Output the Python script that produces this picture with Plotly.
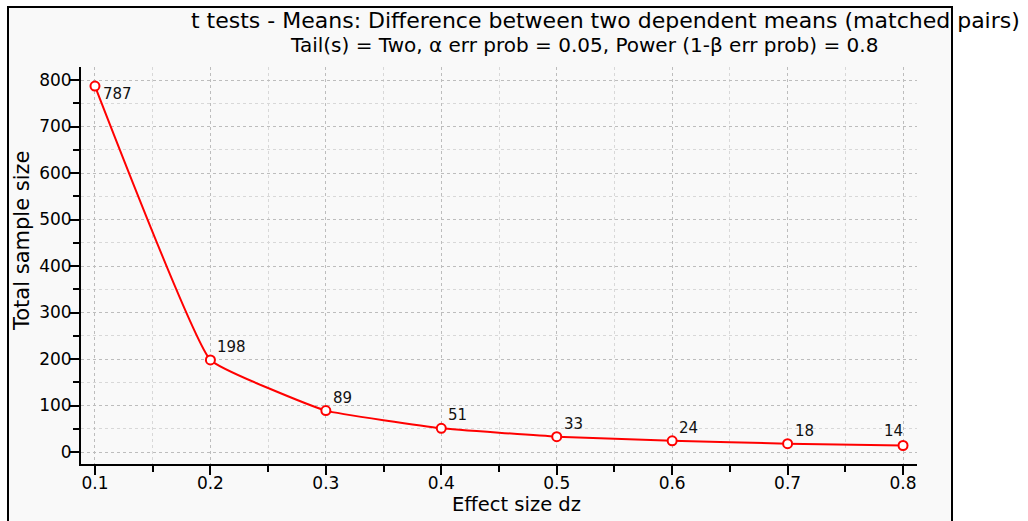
import plotly.graph_objects as go

effect_size = [0.1, 0.2, 0.3, 0.4, 0.5, 0.6, 0.7, 0.8]
sample_size = [787, 198, 89, 51, 33, 24, 18, 14]
x_ticks = [0.1, 0.2, 0.3, 0.4, 0.5, 0.6, 0.7, 0.8]
y_ticks = [0, 100, 200, 300, 400, 500, 600, 700, 800]

title_line1 = "t tests - Means: Difference between two dependent means (matched pairs)"
title_line2 = "Tail(s) = Two, α err prob = 0.05, Power (1-β err prob) = 0.8"

FONT = "DejaVu Sans, sans-serif"
W, H = 1028, 521
L, R, T, B = 81, 917, 67, 464

def px(x):
    return (x - L) / (R - L)

def py(y):
    return (B - y) / (B - T)

fig = go.Figure()
fig.add_trace(go.Scatter(
    x=effect_size, y=sample_size, mode="lines+markers",
    line=dict(color="#ff0000", width=2, shape="spline", smoothing=0.3),
    marker=dict(symbol="circle", size=9, color="white",
                line=dict(color="#ff0000", width=2)),
    hoverinfo="skip", showlegend=False,
))

annotations = []
for i, (xv, yv) in enumerate(zip(effect_size, sample_size)):
    if i == 0:
        a = dict(xanchor="left", xshift=6, yshift=-8)
    elif i == len(effect_size) - 1:
        a = dict(xanchor="right", xshift=2, yshift=14)
    else:
        a = dict(xanchor="left", xshift=5, yshift=13)
    annotations.append(dict(x=xv, y=yv, xref="x", yref="y", text=str(yv),
                            showarrow=False, yanchor="middle",
                            font=dict(family=FONT, size=15, color="#111111"), **a))

annotations += [
    dict(x=px(1022), y=py(20), xref="paper", yref="paper", text=title_line1,
         showarrow=False, xanchor="right", yanchor="middle",
         font=dict(family=FONT, size=22, color="black")),
    dict(x=px(880), y=py(45), xref="paper", yref="paper", text=title_line2,
         showarrow=False, xanchor="right", yanchor="middle",
         font=dict(family=FONT, size=20, color="black")),
    dict(x=px(22), y=py(241), xref="paper", yref="paper", text="Total sample size",
         showarrow=False, xanchor="center", yanchor="middle", textangle=-90,
         font=dict(family=FONT, size=21, color="black")),
    dict(x=px(516), y=py(504), xref="paper", yref="paper", text="Effect size dz",
         showarrow=False, xanchor="center", yanchor="middle",
         font=dict(family=FONT, size=19.5, color="black")),
]

shapes = [
    dict(type="rect", xref="paper", yref="paper",
         x0=px(8), x1=px(952), y0=py(560), y1=py(7),
         line=dict(color="black", width=2), fillcolor="#f9f9f9", layer="below"),
]

fig.update_layout(
    width=W, height=H,
    margin=dict(l=L, r=W - R, t=T, b=H - B, pad=0),
    paper_bgcolor="white", plot_bgcolor="#eeeeee",
    font=dict(family=FONT, size=17, color="black"),
    annotations=annotations, shapes=shapes,
    showlegend=False,
)
fig.update_xaxes(
    range=[0.0879, 0.8121], tickvals=x_ticks, ticktext=[str(v) for v in x_ticks],
    showline=True, linecolor="black", linewidth=2, mirror=False,
    ticks="outside", ticklen=9, tickwidth=2, tickcolor="black",
    ticklabelstandoff=-6,
    showgrid=True, gridcolor="#bdbdbd", griddash="dot", gridwidth=1,
    zeroline=False, tickfont=dict(size=17),
    minor=dict(dtick=0.05, tick0=0.05, ticks="outside", ticklen=6, tickwidth=2, tickcolor="black",
               showgrid=True, gridcolor="#d8d8d8", griddash="dot", gridwidth=1),
)
fig.update_yaxes(
    range=[-25.8, 828], tickvals=y_ticks,
    showline=True, linecolor="black", linewidth=2, mirror=False,
    ticks="outside", ticklen=9, tickwidth=2, tickcolor="black",
    ticklabelstandoff=-5,
    showgrid=True, gridcolor="#bdbdbd", griddash="dot", gridwidth=1,
    zeroline=False, tickfont=dict(size=17),
    minor=dict(dtick=50, tick0=0, ticks="outside", ticklen=6, tickwidth=2, tickcolor="black",
               showgrid=True, gridcolor="#d8d8d8", griddash="dot", gridwidth=1),
)

fig.write_html("out.html")
